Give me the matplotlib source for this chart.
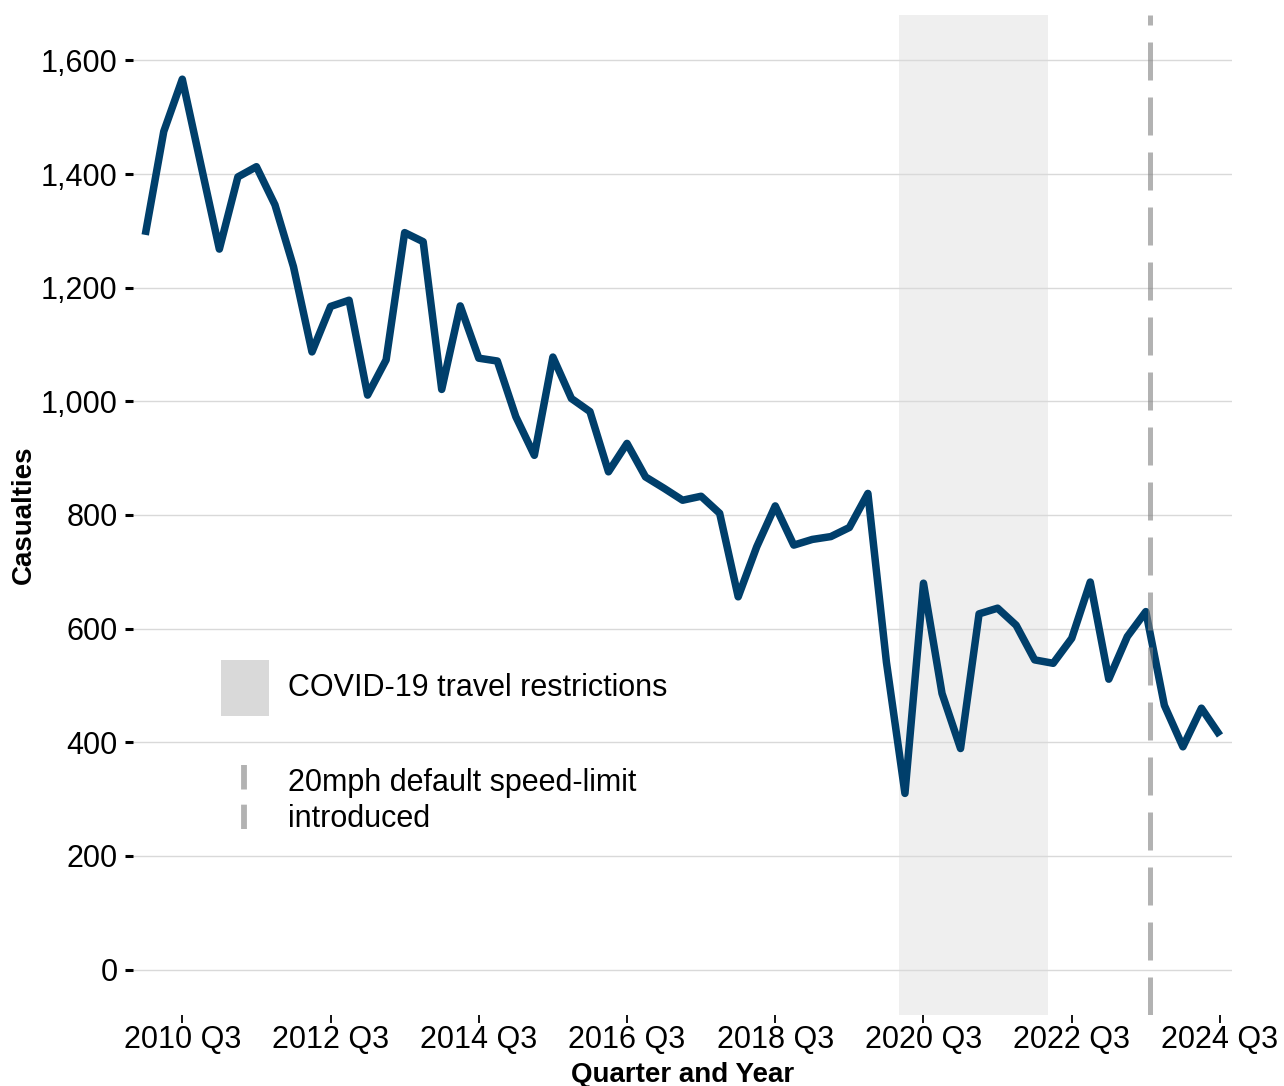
import matplotlib
matplotlib.use("Agg")
import matplotlib.pyplot as plt
from matplotlib.patches import Rectangle
from matplotlib.lines import Line2D
from matplotlib.ticker import FuncFormatter

plt.rcParams['font.family'] = ['Liberation Sans', 'DejaVu Sans']

years = list(range(2010, 2025))
quarters = [f"{y} Q{q}" for y in years for q in range(1, 5)][:59]  # 2010 Q1 .. 2024 Q3

casualties = [1293, 1475, 1567, 1417, 1268, 1395, 1413, 1346, 1237, 1087,
              1167, 1178, 1011, 1073, 1297, 1281, 1021, 1168, 1076, 1071,
              973, 905, 1078, 1005, 982, 876, 926, 867, 847, 826,
              833, 803, 656, 744, 816, 747, 757, 762, 778, 838,
              541, 310, 680, 486, 389, 626, 636, 606, 545, 539,
              583, 682, 511, 586, 630, 465, 392, 460, 412]

tick_labels = ["2010 Q3", "2012 Q3", "2014 Q3", "2016 Q3", "2018 Q3",
               "2020 Q3", "2022 Q3", "2024 Q3"]
y_ticks = [0, 200, 400, 600, 800, 1000, 1200, 1400, 1600]

covid_start, covid_end = 40.68, 48.71   # quarter index positions
speed_limit_pos = 54.24

fig = plt.figure(figsize=(12.84, 10.86), dpi=100)
ax = fig.add_axes([133/1284, 1-1015/1086, (1232-133)/1284, 1000/1086])

x = list(range(len(casualties)))
ax.axvspan(covid_start, covid_end, color='#d9d9d9', alpha=0.42, lw=0, zorder=1)
ax.plot(x, casualties, color='#003f6b', lw=5.4, solid_joinstyle='round',
        solid_capstyle='butt', zorder=3)
ax.axvline(speed_limit_pos, color='#808080', alpha=0.6, lw=3.6,
           dashes=(7.6, 3.4), zorder=4)

ax.set_xlim(-0.66, 58.65)
ax.set_ylim(-80, 1680)
ax.set_yticks(y_ticks)
ax.yaxis.set_major_formatter(FuncFormatter(lambda v, p: f"{int(v):,}"))
tick_idx = [quarters.index(t) for t in tick_labels]
ax.set_xticks(tick_idx)
ax.set_xticklabels(tick_labels)

ax.grid(axis='y', color='#d9d9d9', lw=1.0, zorder=0)
ax.set_axisbelow(True)
for s in ax.spines.values():
    s.set_visible(False)

ax.tick_params(axis='y', length=6, width=2.2, pad=5, labelsize=22, color='black')
ax.tick_params(axis='x', length=6, width=1.3, pad=1, labelsize=22, color='black')

ax.set_ylabel("Casualties", fontsize=20, fontweight='bold', labelpad=3)
ax.set_xlabel("Quarter and Year", fontsize=20, fontweight='bold', labelpad=5)

# manual legend
fig.patches.append(Rectangle((221/1284, 1-716/1086), 48/1284, 56/1086,
                             transform=fig.transFigure, color='#d9d9d9', lw=0))
fig.text(288/1284, 1-688/1086, "COVID-19 travel restrictions", fontsize=22,
         va='center', ha='left')
fig.lines.append(Line2D([244/1284, 244/1284], [1-765/1086, 1-829/1086],
                        transform=fig.transFigure, color='#808080', alpha=0.6,
                        lw=4.2, dashes=(4.2, 2.6)))
fig.text(288/1284, 1-801/1086, "20mph default speed-limit\nintroduced",
         fontsize=22, va='center', ha='left', linespacing=1.25)

fig.savefig("out.png", dpi=100)
